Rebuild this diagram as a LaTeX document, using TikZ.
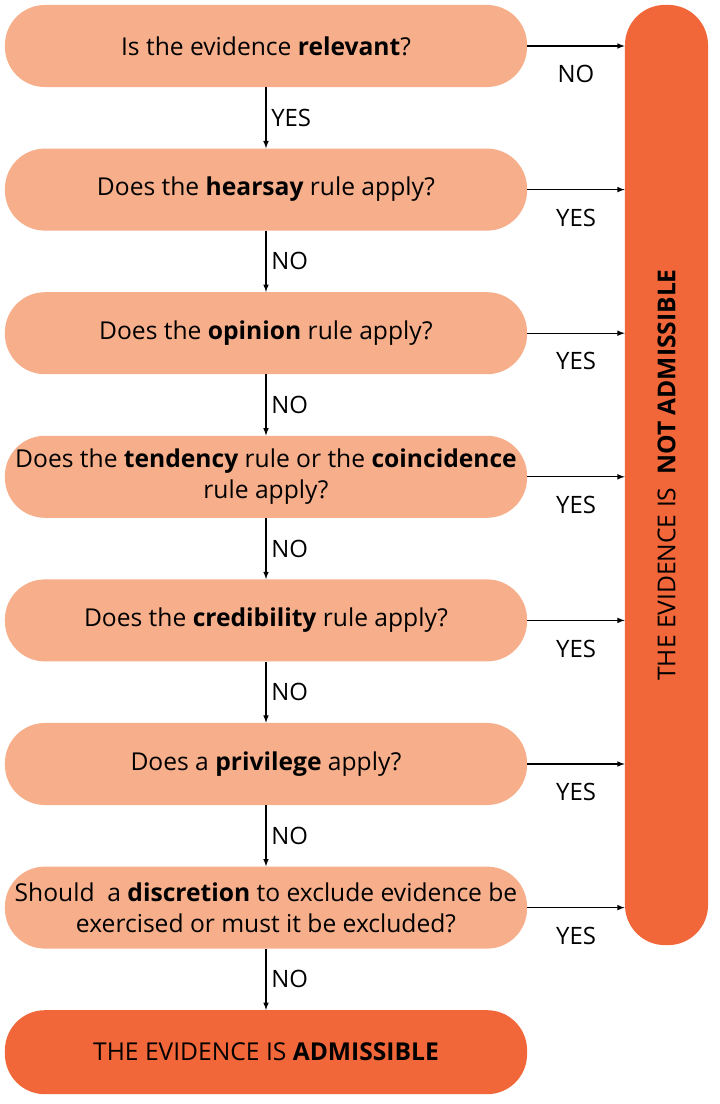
\documentclass[tikz,border=0pt]{standalone}
\usepackage{fontspec}
\setmainfont{Open Sans}
\usetikzlibrary{positioning}
\definecolor{lightorange}{HTML}{F6AE8B}
\definecolor{darkorange}{HTML}{F1673A}
\begin{document}
\begin{tikzpicture}[x=0.025cm,y=-0.025cm]
    \tikzstyle{question}=[rectangle,rounded corners=1cm,fill=lightorange,minimum width=13.05cm,minimum height=2.05cm,align=center,font=\fontsize{17.5}{22}\selectfont,inner sep=0pt]
    \tikzstyle{result}=[question,fill=darkorange,minimum height=2.1cm]
    \tikzstyle{flow}=[->,>=latex,line width=0.8pt]
    \tikzstyle{lbl}=[font=\fontsize{17}{20}\selectfont]
    \useasboundingbox (0,0) rectangle (720,1104);

    \node[question] (q1) at (266,46) {Is the evidence \textbf{relevant}?};
    \node[question,below=1.525cm of q1] (q2) {Does the \textbf{hearsay} rule apply?};
    \node[question,below=1.525cm of q2] (q3) {Does the \textbf{opinion} rule apply?};
    \node[question,below=1.525cm of q3] (q4) {Does the \textbf{tendency} rule or the \textbf{coincidence}\\rule apply?};
    \node[question,below=1.525cm of q4] (q5) {Does the \textbf{credibility} rule apply?};
    \node[question,below=1.525cm of q5] (q6) {Does a \textbf{privilege} apply?};
    \node[question,below=1.525cm of q6] (q7) {Should\ \ a \textbf{discretion} to exclude evidence be\\exercised or must it be excluded?};
    \node[result,below=1.525cm of q7] (adm) {THE EVIDENCE IS \textbf{ADMISSIBLE}};
    \node[result,minimum width=23.5cm,minimum height=2.075cm,rotate=90] (notadm) at (666.5,475) {THE EVIDENCE IS\ \ \textbf{NOT ADMISSIBLE}};

    % downward flow
    \draw[flow] (q1) -- node[lbl,right] {YES} (q2);
    \foreach \a/\b in {q2/q3,q3/q4,q4/q5,q5/q6,q6/q7,q7/adm}
        \draw[flow] (\a) -- node[lbl,right] {NO} (\b);

    % exits to the right
    \draw[flow] (q1.east) -- node[lbl,below=10pt] {NO} (q1.east -| notadm.north);
    \foreach \q in {q2,q3,q4,q5,q6,q7}
        \draw[flow] (\q.east) -- node[lbl,below=10pt] {YES} (\q.east -| notadm.north);
\end{tikzpicture}
\end{document}
